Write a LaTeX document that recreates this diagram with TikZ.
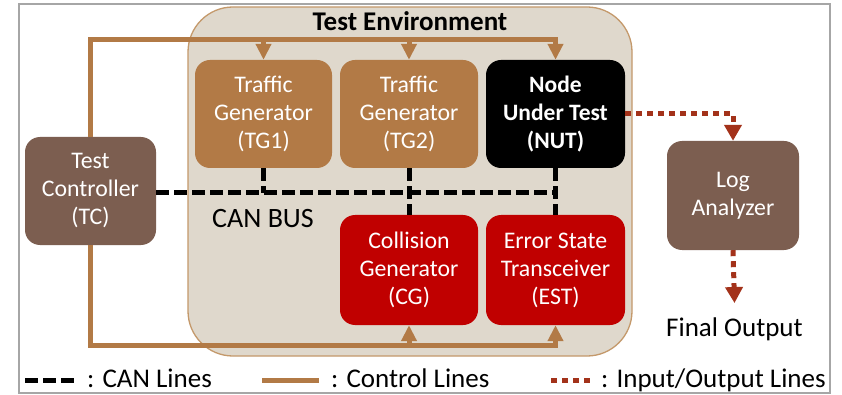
\documentclass[tikz,border=0pt]{standalone}
\usepackage{fontspec}
\setmainfont{Carlito}
\usetikzlibrary{arrows.meta}
\definecolor{envfill}{HTML}{DFD8CC}
\definecolor{envborder}{HTML}{C4996B}
\definecolor{tgc}{HTML}{B27A46}
\definecolor{tcc}{HTML}{7C5E50}
\definecolor{redc}{HTML}{C00000}
\definecolor{ioc}{HTML}{A3321A}
\definecolor{framegray}{HTML}{A6A6A6}
\begin{document}
\begin{tikzpicture}[x=1pt,y=-1pt,
  boxtxt/.style={font=\fontsize{23.8}{28}\selectfont},
  box/.style={boxtxt, rounded corners=15pt, text=white, align=center, inner sep=0pt},
  bigtxt/.style={font=\fontsize{27}{31}\selectfont, inner sep=0pt},
  ctl/.style={draw=tgc, line width=5pt},
  ctlarrow/.style={ctl, -{Triangle[width=15pt,length=16pt]}},
  can/.style={draw=black, line width=5pt, dash pattern=on 13pt off 5pt},
  io/.style={draw=ioc, line width=5pt, dash pattern=on 6pt off 5pt},
  ioarrow/.style={io, -{Triangle[width=17pt,length=16pt]}}
]
\useasboundingbox (0,0) rectangle (842,395);
\fill[white] (0,0) rectangle (842,395);
\draw[framegray, line width=1.2pt] (19,4) rectangle (830,393);

% environment
\node[draw=envborder, fill=envfill, line width=1.3pt, rounded corners=45pt,
      minimum width=444pt, minimum height=349pt, inner sep=0pt] (env) at (410,181.5) {};
\node[font=\fontsize{27}{31}\selectfont\bfseries, anchor=base, inner sep=0pt] (title) at (410,31) {Test Environment};

% boxes
\node[box, fill=tgc, minimum width=137pt, minimum height=108pt] (tg1) at (263.5,114) {Traffic\\Generator\\(TG1)};
\node[box, fill=tgc, minimum width=138pt, minimum height=108pt] (tg2) at (409,114) {Traffic\\Generator\\(TG2)};
\node[box, fill=black, minimum width=139pt, minimum height=108pt, font=\fontsize{23.5}{28}\selectfont\bfseries] (nut) at (555.5,114) {Node\\Under Test\\(NUT)};
\node[box, fill=tcc, minimum width=131pt, minimum height=108pt] (tc) at (90.5,191) {Test\\Controller\\(TC)};
\node[box, fill=tcc, minimum width=132pt, minimum height=109pt] (log) at (733,195.5) {Log\\Analyzer};
\node[box, fill=redc, minimum width=138pt, minimum height=110pt] (cg) at (409,270) {Collision\\Generator\\(CG)};
\node[box, fill=redc, minimum width=139pt, minimum height=110pt] (est) at (555.5,270) {Error State\\Transceiver\\(EST)};

\node[font=\fontsize{28}{32}\selectfont, inner sep=0pt, anchor=base] (canlbl) at (263,227) {CAN BUS};
\node[bigtxt, anchor=base] (out) at (734.5,336) {Final Output};

% control lines
\draw[ctlarrow] (tc.north) |- (nut.north |- 0,40) -- (nut.north);
\draw[ctlarrow] (tg1.north |- 0,40) -- (tg1.north);
\draw[ctlarrow] (tg2.north |- 0,40) -- (tg2.north);
\draw[ctlarrow] (tc.south) |- (est.south |- 0,345) -- (est.south);
\draw[ctlarrow] (cg.south |- 0,345) -- (cg.south);

% CAN bus
\draw[can] (tc.east |- 0,193) -- ([xshift=2pt]nut.south |- 0,193);
\draw[can] (tg1.south) -- (tg1.south |- 0,193);
\draw[can] (tg2.south) -- (cg.north);
\draw[can] (nut.south) -- (est.north);

% IO lines
\draw[ioarrow] (nut.east) -| (log.north);
\draw[ioarrow] (log.south) -- ([yshift=14pt]out.north);

% legend
\coordinate (l1a) at (25,380); \coordinate (l1b) at (76,380);
\draw[can] (l1a) -- (l1b);
\node[bigtxt, anchor=base west] (lg1) at (87,387.5) {: CAN Lines};
\coordinate (l2a) at (262,380); \coordinate (l2b) at (319,380);
\draw[ctl] (l2a) -- (l2b);
\node[bigtxt, anchor=base west] (lg2) at (331,387.5) {: Control Lines};
\coordinate (l3a) at (551,380); \coordinate (l3b) at (594,380);
\draw[io] (l3a) -- (l3b);
\node[bigtxt, anchor=base west] (lg3) at (601,387.5) {: Input/Output Lines};
\end{tikzpicture}
\end{document}
